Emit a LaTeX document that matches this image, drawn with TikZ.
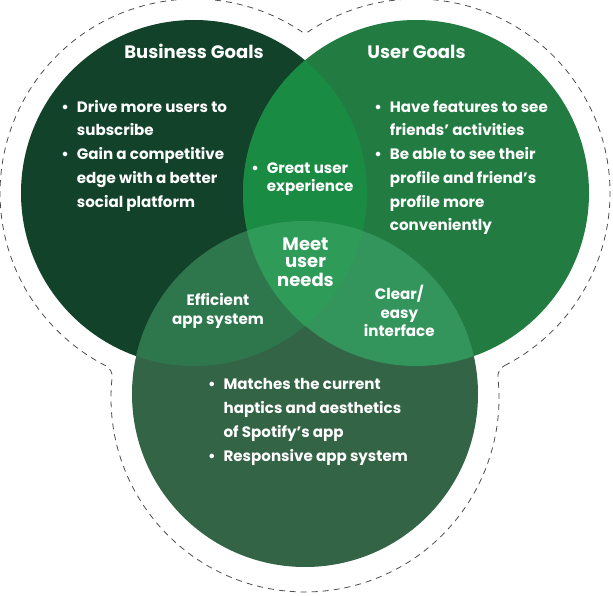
\documentclass[tikz,border=0pt]{standalone}
\usepackage{fontspec}
\setmainfont{Poppins}
\usetikzlibrary{positioning}
\definecolor{bizgreen}{HTML}{12432A}
\definecolor{usrgreen}{HTML}{227C42}
\definecolor{appgreen}{HTML}{346446}
\definecolor{bizusr}{HTML}{198B43}
\definecolor{bizapp}{HTML}{2E774D}
\definecolor{usrapp}{HTML}{33955B}
\definecolor{allgreen}{HTML}{2F9B59}
\newcommand{\gbul}{\makebox[10pt]{\textbullet}}

\begin{document}
\begin{tikzpicture}[x=1pt,y=1pt,
    lbl/.style={text=white,inner sep=0pt,font=\bfseries\fontsize{15.1}{23.7}\selectfont},
    ttl/.style={lbl,font=\bfseries\fontsize{18}{22}\selectfont},
    mid/.style={lbl,font=\bfseries\fontsize{15.1}{18.3}\selectfont},
    rim/.style={draw=black!70,line width=0.8pt,dash pattern=on 6pt off 5pt}]
  \useasboundingbox (0,0) rectangle (613,595);
  \coordinate (biz) at (194,402);
  \coordinate (usr) at (416,402);
  \coordinate (app) at (305,201);
  % dashed rim round the three circles
  \draw[rim] ([shift={(usr)}]-62.89:194) arc[start angle=-62.89,end angle=123.9,radius=194]
    arc[start angle=303.9,end angle=236.1,radius=5]
    arc[start angle=56.1,end angle=242.89,radius=194]
    arc[start angle=62.89,end angle=-6.02,radius=12]
    arc[start angle=173.98,end angle=366.02,radius=194]
    arc[start angle=186.02,end angle=117.11,radius=12] -- cycle;
  \fill[bizgreen] (biz) circle[radius=173];
  \fill[usrgreen] (usr) circle[radius=173];
  \fill[appgreen] (app) circle[radius=173];
  \begin{scope}
    \clip (biz) circle[radius=173];
    \fill[bizusr] (usr) circle[radius=173];
    \fill[bizapp] (app) circle[radius=173];
  \end{scope}
  \begin{scope}
    \clip (usr) circle[radius=173];
    \fill[usrapp] (app) circle[radius=173];
    \clip (biz) circle[radius=173];
    \fill[allgreen] (app) circle[radius=173];
  \end{scope}
  % texts
  \node[ttl,anchor=base] (bizTitle) at (194,536) {Business Goals};
  \node[ttl,anchor=base] (usrTitle) at (416.5,536) {User Goals};
  \node[lbl,anchor=base west] (bizList) at (60,482.7) {\begin{tabular}[t]{@{}c@{\hspace{6.7pt}}l@{}}
    \gbul & Drive more users to\\ & subscribe\\
    \gbul & Gain a competitive\\ & edge with a better\\ & social platform\end{tabular}};
  \node[lbl,anchor=base west] (usrList) at (373,482.7) {\begin{tabular}[t]{@{}c@{\hspace{6.7pt}}l@{}}
    \gbul & Have features to see\\ & friends’ activities\\
    \gbul & Be able to see their\\ & profile and friend’s\\ & profile more\\ & conveniently\end{tabular}};
  \node[lbl,anchor=base west] (appList) at (206.7,205) {\begin{tabular}[t]{@{}c@{\hspace{6.7pt}}l@{}}
    \gbul & Matches the current\\ & haptics and aesthetics\\ & of Spotify’s app\\
    \gbul & Responsive app system\end{tabular}};
  \node[mid,anchor=base west] (bizUsr) at (250,421.7) {\begin{tabular}[t]{@{}c@{\hspace{6.7pt}}l@{}}
    \gbul & Great user\\ & experience\end{tabular}};
  \node[mid,anchor=base] (bizApp) at (218,289) {\begin{tabular}[t]{@{}c@{}}Efficient\\app system\end{tabular}};
  \node[mid,anchor=base] (usrApp) at (399.3,295) {\begin{tabular}[t]{@{}c@{}}Clear/\\easy\\interface\end{tabular}};
  \node[lbl,anchor=base,font=\bfseries\fontsize{18}{17}\selectfont] (allNeeds) at (305.5,344.3)
    {\begin{tabular}[t]{@{}c@{}}Meet\\user\\needs\end{tabular}};
\end{tikzpicture}
\end{document}
